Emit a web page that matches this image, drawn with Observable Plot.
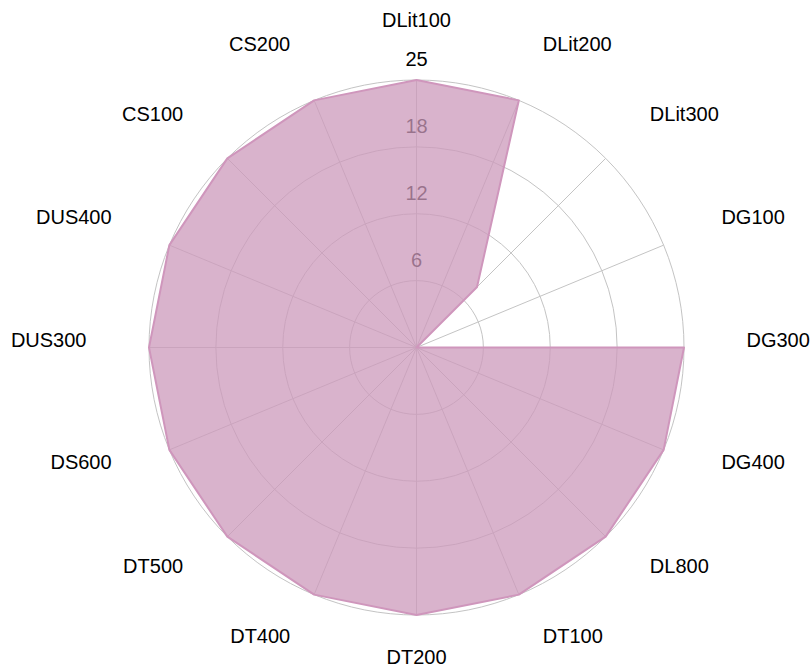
<!DOCTYPE html>
<html><head><meta charset="utf-8">
<script src="https://cdn.jsdelivr.net/npm/d3@7"></script>
<script src="https://cdn.jsdelivr.net/npm/@observablehq/plot@0.6"></script>
<style>body{margin:0;background:#fff}</style>
</head><body><div id="chart"></div>
<script>
const categories = ["DLit100","DLit200","DLit300","DG100","DG300","DG400","DL800","DT100","DT200","DT400","DT500","DS600","DUS300","DUS400","CS100","CS200"];
const values = [25,25,8,0,25,25,25,25,25,25,25,25,25,25,25,25];
const tickValues = [6.25,12.5,18.75,25];
const tickLabels = ["6","12","18","25"];
const maxValue = 25;

const n = categories.length;
const ang = i => 2*Math.PI*i/n;
const pts = categories.map((c,i)=>({c, v: values[i], x: values[i]*Math.sin(ang(i)), y: values[i]*Math.cos(ang(i))}));
const spokes = categories.map((c,i)=>({c, x: maxValue*Math.sin(ang(i)), y: maxValue*Math.cos(ang(i))}));
const R = 267.5, cx = 416, cy = 347;
const lrx = 330/R*maxValue, lry = 320/R*maxValue;
const labels = categories.map((c,i)=>({c, s: Math.sin(ang(i)), k: Math.cos(ang(i)), x: lrx*Math.sin(ang(i)), y: lry*Math.cos(ang(i))}));
const font = "Liberation Sans, Arial, Helvetica, sans-serif";
const txt = (data, anchor, dy = -7) => Plot.text(data, {x:"x", y:"y", text:"c", textAnchor:anchor, dy, fontSize:20, fontFamily:font, fill:"#000"});

const chart = Plot.plot({
  width: 812, height: 669, margin: 0,
  x: {domain: [-maxValue, maxValue], range: [cx-R, cx+R], axis: null},
  y: {domain: [-maxValue, maxValue], range: [cy+R, cy-R], axis: null},
  r: {type: "linear", domain: [0, maxValue], range: [0, R]},
  style: {fontFamily: font, background: "#fff"},
  marks: [
    Plot.dot(tickValues, {x: ()=>0, y: ()=>0, r: d=>d, stroke: "#c4c4c4", fill: "none", strokeWidth: 1}),
    Plot.link(spokes, {x1: ()=>0, y1: ()=>0, x2: "x", y2: "y", stroke: "#c4c4c4", strokeWidth: 1}),
    Plot.text(tickValues, {x: ()=>0, y: d=>d, text: (d,i)=>tickLabels[i], dy: -20, fontSize: 20, fontFamily: font, fill: "#000"}),
    Plot.line(pts, {x: "x", y: "y", curve: "linear-closed", fill: "#cc99bb", fillOpacity: 0.75, stroke: "#cf96bc", strokeWidth: 2}),
    txt(labels.filter(d=>d.s > 0.01), "start"),
    txt(labels.filter(d=>d.s < -0.01), "end"),
    txt(labels.filter(d=>Math.abs(d.s) <= 0.01 && d.k > 0), "middle"),
    txt(labels.filter(d=>Math.abs(d.s) <= 0.01 && d.k < 0), "middle", -10)
  ]
});
document.getElementById("chart").appendChild(chart);
</script>
</body></html>
